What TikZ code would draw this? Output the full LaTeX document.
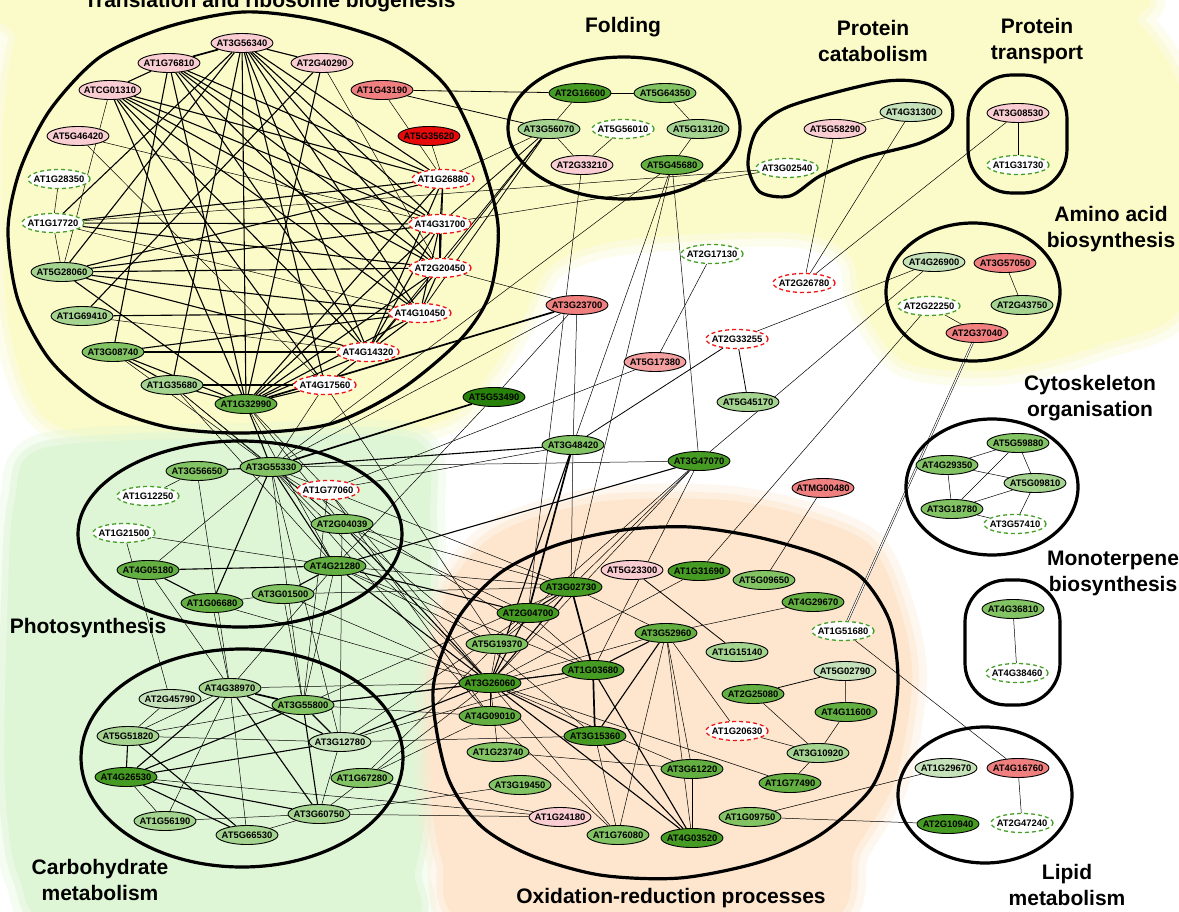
\documentclass[tikz,border=0pt]{standalone}
\usepackage{fontspec}
\setmainfont{Liberation Sans}
\usetikzlibrary{shapes.geometric}
\pgfdeclarelayer{bg}\pgfdeclarelayer{edges}\pgfdeclarelayer{outl}
\pgfsetlayers{bg,edges,outl,main}
\definecolor{yel}{RGB}{251,251,201}
\definecolor{grn}{RGB}{222,246,214}
\definecolor{org}{RGB}{253,230,205}
\definecolor{pinkL}{RGB}{250,205,210}
\definecolor{salmon}{RGB}{240,128,128}
\definecolor{salmonL}{RGB}{244,160,160}
\definecolor{redN}{RGB}{230,10,10}
\definecolor{cgL}{RGB}{198,226,186}
\definecolor{cgML}{RGB}{165,212,145}
\definecolor{cgM}{RGB}{130,195,100}
\definecolor{cgMD}{RGB}{100,175,65}
\definecolor{cgD}{RGB}{70,155,35}
\definecolor{cgDD}{RGB}{40,130,10}
\definecolor{dashR}{RGB}{240,20,20}
\definecolor{dashG}{RGB}{70,160,40}
\tikzset{
 nd/.style={ellipse, draw=black, line width=0.9pt, minimum width=62pt, minimum height=19pt, inner sep=0pt, font=\fontsize{9.4}{10}\selectfont\bfseries},
 pk/.style={fill=pinkL}, sa/.style={fill=salmon}, saL/.style={fill=salmonL}, rd/.style={fill=redN},
 gL/.style={fill=cgL}, gML/.style={fill=cgML}, gM/.style={fill=cgM}, gMD/.style={fill=cgMD}, gD/.style={fill=cgD}, gDD/.style={fill=cgDD},
 dr/.style={fill=white, draw=dashR, dash pattern=on 4pt off 3pt, line width=1.3pt},
 dg/.style={fill=white, draw=dashG, dash pattern=on 4pt off 3pt, line width=1.3pt},
 tn/.style={line width=0.5pt}, tm/.style={line width=0.8pt}, tk/.style={line width=1.1pt}, tkk/.style={line width=1.7pt},
 outline/.style={line width=3.2pt},
 ttl/.style={font=\fontsize{21}{26}\selectfont\bfseries, align=center},
}
\newcommand\gn[4]{\node[nd,#4] (#1) at (#2,#3) {\makebox[0pt]{#1}};}
\begin{document}
\begin{tikzpicture}[x=1pt,y=-1pt]
\useasboundingbox (0,0) rectangle (1179,912);
% ---------- background blobs
\begin{pgfonlayer}{bg}
\fill[white] (0,0) rectangle (1179,912);
\foreach \w/\o in {30/0.3,14/0.5,0.1/1}{
\path[fill=yel,draw=yel,line width=\w pt,opacity=\o] plot[smooth cycle] coordinates {(50,-10) (1060,-10) (1140,25) (1185,110) (1185,300) (1100,345) (1000,370) (905,362) (862,305) (850,255) (790,232) (623,240) (552,265) (522,320) (490,372) (445,420) (300,450) (150,447) (45,418) (8,320) (2,150) (15,40)};
}
\foreach \w/\o in {30/0.3,14/0.5,0.1/1}{
\path[fill=grn,draw=grn,line width=\w pt,opacity=\o] plot[smooth cycle] coordinates {(45,448) (250,438) (415,440) (430,520) (430,650) (428,790) (415,870) (395,925) (70,925) (20,880) (5,780) (8,600) (15,500)};
}
\foreach \w/\o in {30/0.3,14/0.5,0.1/1}{
\path[fill=org,draw=org,line width=\w pt,opacity=\o] plot[smooth cycle] coordinates {(432,690) (448,590) (500,532) (600,502) (720,500) (800,515) (870,545) (900,610) (912,680) (895,780) (855,850) (815,925) (480,925) (442,860) (430,780)};
}
\end{pgfonlayer}
% ---------- cluster outlines
\begin{pgfonlayer}{outl}
\draw[outline] plot[smooth cycle] coordinates {(243,12) (317,20) (390,43) (445,85) (478,150) (498,225) (490,293) (460,340) (400,390) (330,424) (245,433) (167,427) (100,403) (50,360) (18,300) (8,230) (20,170) (50,110) (100,57) (167,27)};
\draw[outline] (624,128) ellipse [x radius=116, y radius=71];
\draw[outline] plot[smooth cycle] coordinates {(790,106) (880,82) (925,83) (950,100) (950,125) (920,143) (863,158) (820,176) (790,196) (760,192) (748,165) (757,130)};
\draw[outline, rounded corners=44pt] (968,75) rectangle (1067,193);
\draw[outline] (973,292) ellipse [x radius=87, y radius=69];
\draw[outline] (992,487) ellipse [x radius=86, y radius=68];
\draw[outline, rounded corners=42pt] (965,580) rectangle (1060,705);
\draw[outline] (985,795) ellipse [x radius=87, y radius=68];
\draw[outline] (240,534) ellipse [x radius=162, y radius=93];
\draw[outline] (242,758) ellipse [x radius=161, y radius=109];
\draw[outline] plot[smooth cycle] coordinates {(433,690) (457,620) (500,573) (557,545) (623,530) (690,527) (757,537) (820,555) (862,578) (890,622) (898,680) (890,740) (870,790) (820,835) (760,862) (680,878) (600,875) (530,855) (480,825) (447,775)};
\end{pgfonlayer}
% ---------- titles
\node[ttl, anchor=base] (tTrans) at (270,8) {Translation and ribosome biogenesis};
\node[ttl] (tFold) at (623,27) {Folding};
\node[ttl] (tCat) at (873,41) {Protein\\catabolism};
\node[ttl] (tTra) at (1037,41) {Protein\\transport};
\node[ttl] (tAmi) at (1111,229) {Amino acid\\biosynthesis};
\node[ttl] (tCyt) at (1090,398) {Cytoskeleton\\organisation};
\node[ttl] (tMon) at (1113,573) {Monoterpene\\biosynthesis};
\node[ttl] (tLip) at (1067,885) {Lipid\\metabolism};
\node[ttl] (tPho) at (88,628) {Photosynthesis};
\node[ttl] (tCar) at (100,880) {Carbohydrate\\metabolism};
\node[ttl] (tOx) at (671,898) {Oxidation-reduction processes};
% ---------- nodes: translation
\gn{AT3G56340}{242}{43}{pk}
\gn{AT1G76810}{169}{63}{pk}
\gn{AT2G40290}{322}{63}{pk}
\gn{ATCG01310}{110}{90}{pk}
\gn{AT1G43190}{382}{90}{sa}
\gn{AT5G46420}{78}{136}{pk}
\gn{AT5G35620}{429}{136}{rd}
\gn{AT1G28350}{59}{179}{dg}
\gn{AT1G26880}{443}{179}{dr}
\gn{AT1G17720}{53}{223}{dg}
\gn{AT4G31700}{440}{224}{dr}
\gn{AT2G20450}{440}{268}{dr}
\gn{AT5G28060}{62}{272}{gML}
\gn{AT4G10450}{420}{313}{dr}
\gn{AT1G69410}{82}{316}{gML}
\gn{AT3G08740}{113}{352}{gM}
\gn{AT4G14320}{368}{352}{dr}
\gn{AT1G35680}{172}{385}{gML}
\gn{AT4G17560}{325}{385}{dr}
\gn{AT1G32990}{246}{404}{gMD}
% folding
\gn{AT2G16600}{580}{93}{gD}
\gn{AT5G64350}{665}{93}{gM}
\gn{AT3G56070}{549}{129}{gML}
\gn{AT5G56010}{623}{129}{dg}
\gn{AT5G13120}{698}{129}{gML}
\gn{AT2G33210}{582}{165}{pk}
\gn{AT5G45680}{672}{165}{gMD}
% protein catabolism / transport
\gn{AT5G58290}{835}{129}{pk}
\gn{AT4G31300}{911}{112}{gL}
\gn{AT3G02540}{787}{168}{dg}
\gn{AT3G08530}{1018}{113}{pk}
\gn{AT1G31730}{1018}{165}{dg}
% amino acid
\gn{AT4G26900}{934}{262}{gL}
\gn{AT3G57050}{1005}{263}{sa}
\gn{AT2G22250}{929}{306}{dg}
\gn{AT2G43750}{1022}{305}{gML}
\gn{AT2G37040}{977}{333}{sa}
% middle
\gn{AT2G17130}{712}{254}{dg}
\gn{AT2G26780}{804}{283}{dr}
\gn{AT3G23700}{577}{305}{sa}
\gn{AT2G33255}{737}{339}{dr}
\gn{AT5G17380}{655}{362}{saL}
\gn{AT5G53490}{494}{397}{gDD}
\gn{AT5G45170}{748}{402}{gML}
\gn{ATMG00480}{823}{488}{sa}
% cytoskeleton
\gn{AT5G59880}{1018}{443}{gM}
\gn{AT4G29350}{947}{465}{gM}
\gn{AT5G09810}{1035}{483}{gML}
\gn{AT3G18780}{952}{509}{gM}
\gn{AT3G57410}{1015}{524}{dg}
% monoterpene
\gn{AT4G36810}{1013}{609}{gM}
\gn{AT4G38460}{1017}{673}{dg}
% lipid
\gn{AT1G29670}{946}{768}{gL}
\gn{AT4G16760}{1018}{768}{sa}
\gn{AT2G10940}{948}{824}{gD}
\gn{AT2G47240}{1022}{823}{dg}
% photosynthesis
\gn{AT3G56650}{197}{471}{gM}
\gn{AT3G55330}{271}{467}{gM}
\gn{AT1G12250}{148}{496}{dg}
\gn{AT1G77060}{328}{490}{dr}
\gn{AT2G04039}{342}{524}{gM}
\gn{AT1G21500}{124}{533}{dg}
\gn{AT4G05180}{148}{570}{gMD}
\gn{AT4G21280}{335}{566}{gMD}
\gn{AT3G01500}{283}{594}{gM}
\gn{AT1G06680}{212}{603}{gMD}
% carbohydrate
\gn{AT4G38970}{230}{688}{gML}
\gn{AT2G45790}{170}{699}{gL}
\gn{AT3G55800}{303}{705}{gM}
\gn{AT5G51820}{128}{736}{gML}
\gn{AT3G12780}{340}{742}{gL}
\gn{AT4G26530}{126}{777}{gD}
\gn{AT1G67280}{362}{778}{gM}
\gn{AT3G60750}{319}{814}{gML}
\gn{AT1G56190}{165}{821}{gML}
\gn{AT5G66530}{247}{835}{gML}
% oxidation-reduction
\gn{AT3G48420}{573}{445}{gM}
\gn{AT3G47070}{699}{461}{gD}
\gn{AT5G23300}{632}{570}{pk}
\gn{AT1G31690}{699}{571}{gD}
\gn{AT5G09650}{764}{580}{gM}
\gn{AT3G02730}{571}{587}{gD}
\gn{AT4G29670}{813}{602}{gMD}
\gn{AT2G04700}{528}{613}{gD}
\gn{AT3G52960}{666}{633}{gMD}
\gn{AT1G51680}{843}{631}{dg}
\gn{AT5G19370}{497}{644}{gM}
\gn{AT1G15140}{737}{652}{gML}
\gn{AT5G02790}{845}{671}{gL}
\gn{AT1G03680}{593}{670}{gD}
\gn{AT3G26060}{490}{683}{gD}
\gn{AT2G25080}{753}{694}{gMD}
\gn{AT4G11600}{846}{712}{gMD}
\gn{AT4G09010}{490}{716}{gMD}
\gn{AT3G15360}{595}{736}{gD}
\gn{AT1G20630}{737}{731}{dr}
\gn{AT1G23740}{498}{752}{gM}
\gn{AT3G10920}{818}{753}{gML}
\gn{AT3G61220}{692}{769}{gMD}
\gn{AT1G77490}{790}{783}{gMD}
\gn{AT3G19450}{520}{785}{gM}
\gn{AT1G09750}{750}{817}{gM}
\gn{AT1G24180}{560}{817}{pk}
\gn{AT1G76080}{618}{835}{gM}
\gn{AT4G03520}{692}{838}{gD}
% ---------- edges
\begin{pgfonlayer}{edges}
\foreach \a/\b in {AT3G56340/AT2G40290, AT1G76810/ATCG01310, AT3G56340/AT1G32990, AT3G56340/AT1G17720, AT3G56340/AT5G28060, AT3G56340/AT1G26880, AT3G56340/AT4G31700, AT3G56340/AT2G20450, AT3G56340/AT4G10450, AT3G56340/AT4G14320, AT3G56340/AT4G17560, AT3G56340/AT1G35680,
AT1G76810/AT3G08740, AT1G76810/AT4G31700, AT1G76810/AT2G20450, AT1G76810/AT4G10450, AT1G76810/AT4G14320, AT1G76810/AT1G32990, AT1G76810/AT1G26880,
ATCG01310/AT1G26880, ATCG01310/AT4G31700, ATCG01310/AT2G20450, ATCG01310/AT4G10450, ATCG01310/AT4G14320, ATCG01310/AT4G17560, ATCG01310/AT1G32990,
AT2G40290/AT1G69410, AT2G40290/AT1G32990,
AT5G28060/AT1G26880, AT5G28060/AT4G31700, AT5G28060/AT2G20450, AT5G28060/AT4G10450, AT5G28060/AT4G14320, AT5G28060/AT1G32990,
AT1G17720/AT1G26880, AT1G17720/AT4G31700, AT1G17720/AT2G20450,
AT1G69410/AT4G10450, AT3G08740/AT4G14320, AT3G08740/AT4G10450, AT3G08740/AT1G35680, AT3G08740/AT1G32990, AT1G35680/AT4G17560, AT1G35680/AT1G32990,
AT1G32990/AT4G17560, AT1G32990/AT4G14320, AT1G32990/AT4G10450, AT1G32990/AT2G20450, AT1G32990/AT4G31700, AT1G32990/AT1G26880,
AT1G26880/AT4G31700, AT4G31700/AT2G20450, AT2G20450/AT4G10450, AT4G10450/AT4G14320, AT4G14320/AT4G17560, AT1G26880/AT2G20450, AT4G31700/AT4G10450, AT4G31700/AT4G14320, AT2G20450/AT4G14320, AT1G26880/AT4G14320,
AT3G48420/AT3G55330, AT3G48420/AT3G26060, AT3G47070/AT4G21280, AT3G02730/AT2G04700, AT3G02730/AT3G26060, AT2G04700/AT3G26060,
AT3G52960/AT1G03680, AT3G52960/AT3G15360, AT1G03680/AT4G03520, AT1G03680/AT3G26060, AT3G26060/AT3G15360, AT3G26060/AT4G03520, AT3G15360/AT4G03520,
AT3G56650/AT3G55330, AT3G55330/AT1G06680, AT3G55330/AT4G21280, AT4G05180/AT4G21280, AT4G05180/AT1G06680, AT3G01500/AT4G21280, AT1G32990/AT3G55330,
AT2G04039/AT3G26060, AT4G21280/AT3G26060, AT4G21280/AT2G04700,
AT4G38970/AT4G26530, AT4G38970/AT3G60750, AT4G38970/AT3G12780, AT3G55800/AT4G26530, AT3G55800/AT3G12780, AT3G55800/AT3G60750, AT5G51820/AT4G26530, AT5G51820/AT5G66530, AT4G26530/AT3G12780, AT4G26530/AT5G66530, AT4G26530/AT3G60750,
AT3G55800/AT3G26060, AT3G12780/AT3G26060}
{\draw[tk] (\a) -- (\b);}
\foreach \a/\b in {AT3G56340/AT1G76810, AT3G23700/AT1G32990, AT5G53490/AT3G55330, AT3G48420/AT2G04700, AT3G02730/AT1G03680, AT1G03680/AT3G15360, AT4G38970/AT3G55800}
{\draw[tkk] (\a) -- (\b);}
\foreach \a/\b in {AT1G43190/AT2G16600, AT1G43190/AT3G56070, AT3G56070/AT4G31700, AT3G56070/AT2G20450, AT3G56070/AT4G10450, AT3G56070/AT4G14320, AT2G33255/AT5G45170, AT2G33255/AT3G48420, AT5G23300/AT1G15140, AT2G25080/AT5G02790}
{\draw[tm] (\a) -- (\b);}
\foreach \a/\b in {ATCG01310/AT5G28060, AT1G28350/AT1G17720, AT1G17720/AT5G28060, AT5G35620/AT1G26880, AT1G43190/AT1G26880, AT5G46420/AT4G31700, AT5G46420/AT4G17560, AT1G69410/AT4G14320, AT2G40290/AT2G20450, AT1G17720/AT4G10450,
AT2G16600/AT5G64350, AT2G16600/AT3G56070, AT5G64350/AT5G13120, AT5G13120/AT5G45680, AT3G56070/AT2G33210, AT5G56010/AT2G33210, AT1G26880/AT3G56070,
AT1G17720/AT3G02540, AT4G31700/AT3G02540, AT2G33210/AT2G04700,
AT5G45680/AT3G48420, AT5G45680/AT3G02730, AT5G45680/AT3G47070, AT5G45680/AT3G55330,
AT5G58290/AT4G31300, AT5G58290/AT2G26780, AT4G31300/AT2G26780, AT3G08530/AT2G26780, AT3G08530/AT1G31730,
AT2G20450/AT3G23700, AT3G23700/AT3G55330, AT3G23700/AT5G53490, AT3G23700/AT3G48420, AT2G17130/AT5G17380, AT5G17380/AT1G77060, AT2G33255/AT4G26900, AT5G53490/AT4G21280,
AT3G57050/AT2G43750, AT2G22250/AT2G37040, AT4G26900/AT3G47070, AT2G22250/AT1G31690,
AT5G59880/AT4G29350, AT5G59880/AT5G09810, AT5G59880/AT3G18780, AT4G29350/AT5G09810, AT4G29350/AT3G18780, AT3G18780/AT5G09810, AT3G18780/AT3G57410, AT5G09810/AT3G57410,
AT4G36810/AT4G38460, AT4G16760/AT2G47240, AT1G51680/AT4G16760, AT1G09750/AT1G29670, AT1G09750/AT2G10940,
ATMG00480/AT5G09650, AT3G48420/AT1G77060, AT3G48420/AT3G02730, AT3G47070/AT3G55330, AT3G47070/AT2G04700, AT3G47070/AT3G26060, AT3G47070/AT3G02730, AT3G47070/AT1G03680,
AT3G02730/AT3G52960, AT3G02730/AT5G19370, AT3G02730/AT4G21280, AT3G02730/AT3G01500, AT2G04700/AT5G19370, AT2G04700/AT1G03680, AT1G31690/AT3G26060,
AT3G52960/AT4G03520, AT3G52960/AT1G76080, AT3G52960/AT3G61220, AT3G52960/AT1G20630, AT3G52960/AT3G26060, AT3G52960/AT4G29670,
AT3G26060/AT3G61220, AT3G26060/AT1G77490, AT3G26060/AT1G76080, AT3G26060/AT4G09010, AT3G26060/AT1G23740, AT3G26060/AT5G19370, AT4G09010/AT1G76080, AT3G15360/AT1G76080, AT1G23740/AT3G61220, AT3G61220/AT4G03520,
AT2G25080/AT3G10920, AT5G02790/AT4G11600, AT4G11600/AT3G10920, AT3G10920/AT1G77490, AT1G20630/AT3G10920,
AT3G56650/AT1G12250, AT3G55330/AT4G05180, AT3G55330/AT1G77060, AT1G21500/AT4G21280, AT1G06680/AT3G01500, AT2G04039/AT3G55330,
AT1G32990/AT2G04039, AT1G32990/AT4G21280, AT1G32990/AT1G77060, AT1G35680/AT3G55330, AT1G35680/AT2G04039, AT1G35680/AT4G21280, AT3G08740/AT3G55330, AT4G17560/AT3G55330, AT4G17560/AT5G19370,
AT3G56650/AT4G38970, AT1G06680/AT4G38970, AT4G05180/AT4G38970, AT1G21500/AT2G45790, AT3G55330/AT3G55800, AT3G55330/AT3G12780, AT4G21280/AT4G38970, AT4G21280/AT3G55800, AT3G01500/AT3G55800, AT2G04039/AT3G12780, AT1G77060/AT3G55800,
AT3G55330/AT3G26060, AT3G55330/AT4G09010, AT3G55330/AT1G03680, AT1G77060/AT3G26060, AT1G77060/AT3G02730, AT1G77060/AT4G09010, AT2G04039/AT3G02730, AT2G04039/AT2G04700, AT2G04039/AT3G15360, AT4G21280/AT1G03680, AT3G01500/AT3G26060, AT1G06680/AT3G26060, AT4G21280/AT5G19370,
AT4G38970/AT5G51820, AT4G38970/AT1G56190, AT4G38970/AT5G66530, AT2G45790/AT5G51820, AT3G55800/AT5G51820, AT5G51820/AT3G12780, AT4G26530/AT1G56190, AT1G56190/AT3G60750, AT5G66530/AT3G60750, AT3G12780/AT3G60750,
AT3G55800/AT4G09010, AT3G55800/AT1G03680, AT3G55800/AT3G02730, AT3G12780/AT3G15360, AT3G12780/AT2G04700, AT3G12780/AT1G03680, AT1G67280/AT4G09010, AT1G67280/AT5G19370, AT3G60750/AT3G19450, AT3G60750/AT1G24180, AT4G26530/AT1G24180, AT4G38970/AT3G26060, AT3G60750/AT3G26060, AT1G67280/AT1G24180}
{\draw[tn] (\a) -- (\b);}
\draw[double, double distance=1.2pt, line width=0.5pt] (AT2G37040) -- (AT1G51680);
\end{pgfonlayer}
\end{tikzpicture}
\end{document}
